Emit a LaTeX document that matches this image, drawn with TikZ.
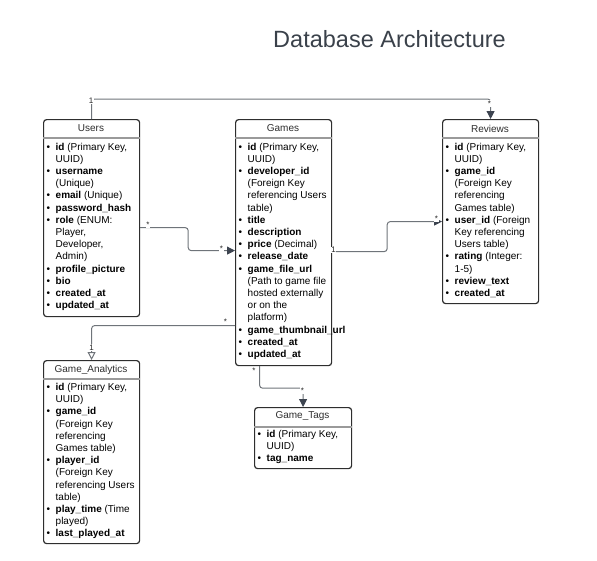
\documentclass[tikz,border=0pt]{standalone}
\usepackage{fontspec}
\setmainfont{Liberation Sans}
\usetikzlibrary{arrows.meta,calc}
\definecolor{boxline}{HTML}{2E2E2E}
\definecolor{hdrline}{HTML}{9A9A9A}
\definecolor{connline}{HTML}{6F747A}
\definecolor{tipcol}{HTML}{3D4450}
\definecolor{titlecol}{HTML}{3A414A}
\newcommand{\bit}[2]{\makebox[9pt][l]{\textbullet}\textbf{#1}#2}
\newcommand{\cnt}[1]{\hspace*{9pt}#1}
\tikzset{
  ebox/.style={draw=boxline, line width=1.2pt, rounded corners=3pt, inner sep=0pt, anchor=north west, fill=white},
  hdr/.style={draw=hdrline, line width=1.8pt},
  ettl/.style={inner sep=0pt, font=\fontsize{10}{12}\selectfont, text=boxline},
  ebody/.style={inner sep=0pt, anchor=base west, font=\fontsize{10}{12.2}\selectfont},
  conn/.style={draw=connline, line width=1pt, rounded corners=3pt},
  filltip/.style={-{Triangle[length=8pt,width=8pt,fill=tipcol,color=tipcol]}},
  opentip/.style={-{Triangle[open,length=8pt,width=8pt,fill=white,color=connline]}},
  mult/.style={inner sep=0.6pt, fill=white, font=\fontsize{8}{9}\selectfont, text=black!85}
}
\begin{document}
\begin{tikzpicture}[x=1pt,y=-1pt]
\useasboundingbox (0,0) rectangle (597,560);
\node[anchor=base, inner sep=0pt, text=titlecol, font=\fontsize{23.5}{28}\selectfont] (title) at (389.5,47.5) {Database Architecture};

% Users
\node[ebox, minimum width=96pt, minimum height=197pt] (users) at (43,119) {};
\draw[hdr] ([yshift=-19pt]users.north west) -- ([yshift=-19pt]users.north east);
\node[ettl] (users-t) at (91,128.5) {Users};
\node[ebody] (users-b) at (46.5,150) {\parbox[t]{110pt}{%
\bit{id}{ (Primary Key,}\\
\cnt{UUID)}\\
\bit{username}{}\\
\cnt{(Unique)}\\
\bit{email}{ (Unique)}\\
\bit{password\_hash}{}\\
\bit{role}{ (ENUM:}\\
\cnt{Player,}\\
\cnt{Developer,}\\
\cnt{Admin)}\\
\bit{profile\_picture}{}\\
\bit{bio}{}\\
\bit{created\_at}{}\\
\bit{updated\_at}{}}};

% Games
\node[ebox, minimum width=96pt, minimum height=246pt] (games) at (235,119) {};
\draw[hdr] ([yshift=-19pt]games.north west) -- ([yshift=-19pt]games.north east);
\node[ettl] (games-t) at (283,128.5) {Games};
\node[ebody] (games-b) at (238.5,150) {\parbox[t]{110pt}{%
\bit{id}{ (Primary Key,}\\
\cnt{UUID)}\\
\bit{developer\_id}{}\\
\cnt{(Foreign Key}\\
\cnt{referencing Users}\\
\cnt{table)}\\
\bit{title}{}\\
\bit{description}{}\\
\bit{price}{ (Decimal)}\\
\bit{release\_date}{}\\
\bit{game\_file\_url}{}\\
\cnt{(Path to game file}\\
\cnt{hosted externally}\\
\cnt{or on the}\\
\cnt{platform)}\\
\bit{game\_thumbnail\_url}{}\\
\bit{created\_at}{}\\
\bit{updated\_at}{}}};

% Reviews
\node[ebox, minimum width=96pt, minimum height=184pt] (reviews) at (442,119) {};
\draw[hdr] ([yshift=-19pt]reviews.north west) -- ([yshift=-19pt]reviews.north east);
\node[ettl] (reviews-t) at (490,128.5) {Reviews};
\node[ebody] (reviews-b) at (445.5,150) {\parbox[t]{110pt}{%
\bit{id}{ (Primary Key,}\\
\cnt{UUID)}\\
\bit{game\_id}{}\\
\cnt{(Foreign Key}\\
\cnt{referencing}\\
\cnt{Games table)}\\
\bit{user\_id}{ (Foreign}\\
\cnt{Key referencing}\\
\cnt{Users table)}\\
\bit{rating}{ (Integer:}\\
\cnt{1-5)}\\
\bit{review\_text}{}\\
\bit{created\_at}{}}};

% Game_Analytics
\node[ebox, minimum width=96pt, minimum height=183pt] (analytics) at (43,360) {};
\draw[hdr] ([yshift=-19pt]analytics.north west) -- ([yshift=-19pt]analytics.north east);
\node[ettl] (analytics-t) at (91,369.5) {Game\_Analytics};
\node[ebody] (analytics-b) at (46.5,390.5) {\parbox[t]{110pt}{%
\bit{id}{ (Primary Key,}\\
\cnt{UUID)}\\
\bit{game\_id}{}\\
\cnt{(Foreign Key}\\
\cnt{referencing}\\
\cnt{Games table)}\\
\bit{player\_id}{}\\
\cnt{(Foreign Key}\\
\cnt{referencing Users}\\
\cnt{table)}\\
\bit{play\_time}{ (Time}\\
\cnt{played)}\\
\bit{last\_played\_at}{}}};

% Game_Tags
\node[ebox, minimum width=97pt, minimum height=61pt] (tags) at (254,407) {};
\draw[hdr] ([yshift=-20pt]tags.north west) -- ([yshift=-20pt]tags.north east);
\node[ettl] (tags-t) at (302.5,416.5) {Game\_Tags};
\node[ebody] (tags-b) at (257.5,437.5) {\parbox[t]{110pt}{%
\bit{id}{ (Primary Key,}\\
\cnt{UUID)}\\
\bit{tag\_name}{}}};

% Connectors
\draw[conn, filltip] (users.north) -- ++(0,-20) -| (reviews.north);
\draw[conn, filltip] ([yshift=-9.5pt]users.east) -- ++(48,0) |- ([yshift=-8pt]games.west);
\draw[conn, filltip] ([yshift=-9pt]games.east) -- ++(55,0) |- ([yshift=-10pt]reviews.west);
\draw[conn, opentip] ([yshift=-83pt]games.west) -| (analytics.north);
\draw[conn, filltip] ([xshift=-24pt]games.south) -- ++(0,22) -| (tags.north);

% Multiplicity labels
\node[mult] (m1) at (91,100.5) {1};
\node[mult] (m2) at (489.5,103.5) {*};
\node[mult] (m3) at (148,224.5) {*};
\node[mult] (m4) at (221.5,248.5) {*};
\node[mult] (m5) at (333.5,250) {1};
\node[mult] (m6) at (436.5,219) {*};
\node[mult] (m7) at (225.5,322) {*};
\node[mult] (m8) at (91.5,347.5) {1};
\node[mult] (m9) at (254,371) {*};
\node[mult] (m10) at (302.5,390.5) {*};
\end{tikzpicture}
\end{document}
